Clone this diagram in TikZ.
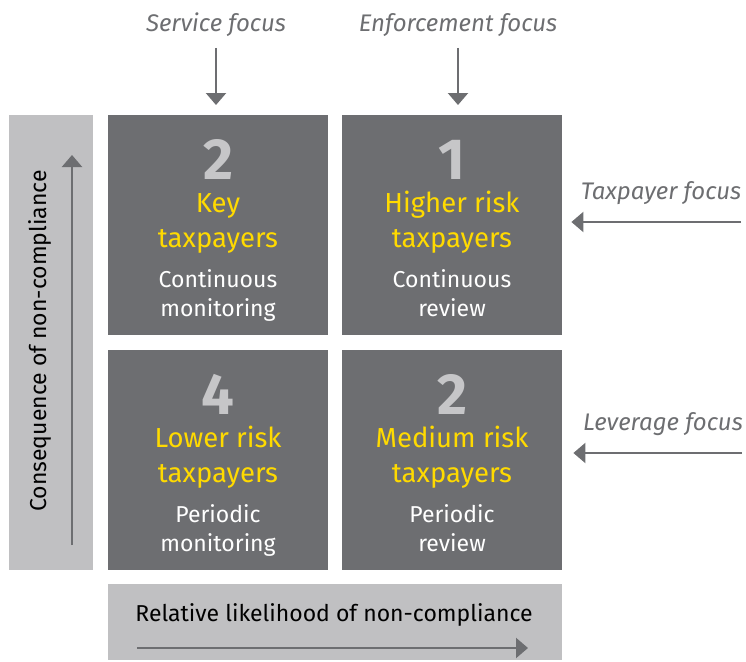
\documentclass[tikz,border=0pt]{standalone}
\usepackage{fontspec}
\setmainfont{Fira Sans}
\usetikzlibrary{positioning}
\usetikzlibrary{arrows.meta}
\definecolor{boxgray}{HTML}{6D6E71}
\definecolor{bargray}{HTML}{C0C0C2}
\definecolor{numgray}{HTML}{C6C6C8}
\definecolor{eyyellow}{HTML}{FFDA00}

\begin{document}
\begin{tikzpicture}[x=1pt, y=-1pt,
	quad/.style={fill=boxgray, minimum width=220pt, minimum height=220pt, inner sep=0pt, anchor=north west},
	bar/.style={fill=bargray, inner sep=0pt, anchor=north west},
	num/.style={anchor=base, text=numgray, font=\fontsize{58}{58}\selectfont\bfseries},
	title/.style={anchor=base, text=eyyellow, font=\fontsize{27.5}{30}\selectfont},
	sub/.style={anchor=base, text=white, font=\fontsize{23}{25}\selectfont},
	focus/.style={text=boxgray, font=\fontsize{24}{25}\selectfont\itshape},
	axis/.style={text=black, font=\fontsize{23}{25}\selectfont},
	pointer/.style={draw=boxgray, line width=2.2pt, -{Triangle[width=20pt,length=12pt]}}]
	\useasboundingbox (0,0) rectangle (746,661);
	% the four risk quadrants
	\foreach \name/\x/\y/\n/\ta/\tb/\sa/\sb in {
		tl/108/115/2/Key/taxpayers/Continuous/monitoring,
		tr/342/115/1/Higher risk/taxpayers/Continuous/review,
		bl/108/350/4/Lower risk/taxpayers/Periodic/monitoring,
		br/342/350/2/Medium risk/taxpayers/Periodic/review} {
		\node[quad] (\name) at (\x,\y) {};
		\node[num] (\name-num) at ({\x+110},{\y+64}) {\n};
		\node[title] (\name-ta) at ({\x+110},{\y+97}) {\ta};
		\node[title] (\name-tb) at ({\x+110},{\y+132}) {\tb};
		\node[sub] (\name-sa) at ({\x+110},{\y+172}) {\sa};
		\node[sub] (\name-sb) at ({\x+110},{\y+201}) {\sb};
	}
	% axes
	\node[bar, minimum width=84pt, minimum height=455pt] (cbar) at (9,115) {};
	\node[axis, rotate=90] (cbar-text) at (40,341) {Consequence of non-compliance};
	\coordinate (cbar-from) at (72,545);
	\coordinate (cbar-to) at (72,155);
	\draw[pointer] (cbar-from) -- (cbar-to);
	\node[bar, minimum width=454pt, minimum height=76pt] (lbar) at (108,584) {};
	\node[axis] (lbar-text) at (334,615) {Relative likelihood of non-compliance};
	\coordinate (lbar-from) at (137,648);
	\coordinate (lbar-to) at (528,648);
	\draw[pointer] (lbar-from) -- (lbar-to);
	% focus labels
	\node[focus] (service) at (216,25) {Service focus};
	\node[focus] (enforce) at (458,25) {Enforcement focus};
	\coordinate (service-from) at (216,48);
	\coordinate (enforce-from) at (458,48);
	\draw[pointer, shorten >=10pt] (service-from) -- (service-from |- tl.north);
	\draw[pointer, shorten >=10pt] (enforce-from) -- (enforce-from |- tr.north);
	\node[focus] (taxpayer) at (661,193) {Taxpayer focus};
	\node[focus] (leverage) at (663,424) {Leverage focus};
	\coordinate (taxpayer-from) at (741,222);
	\coordinate (leverage-from) at (742,453);
	\draw[pointer, shorten >=9pt] (taxpayer-from) -- (taxpayer-from -| tr.east);
	\draw[pointer, shorten >=11pt] (leverage-from) -- (leverage-from -| br.east);
\end{tikzpicture}
\end{document}
